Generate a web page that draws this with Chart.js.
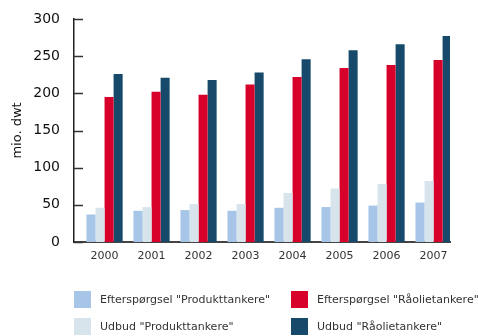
<!DOCTYPE html>
<html>
<head>
<meta charset="utf-8">
<script src="https://cdn.jsdelivr.net/npm/chart.js@4/dist/chart.umd.min.js"></script>
<style>
  html, body { margin: 0; padding: 0; background: #fff; }
  #wrap { position: relative; width: 478px; height: 336px; }
  #legend { position: absolute; left: 0; top: 0; width: 478px; height: 336px; pointer-events: none;
    font-family: "DejaVu Sans", sans-serif; font-size: 11px; color: #333; }
  .item { position: absolute; display: flex; align-items: center; white-space: nowrap; height: 17px; }
  .box { width: 17px; height: 17px; margin-right: 9px; }
</style>
</head>
<body>
<div id="wrap">
  <canvas id="tankChart" width="478" height="336"></canvas>
  <div id="legend"></div>
</div>
<script>
// årstal
const years = ["2000", "2001", "2002", "2003", "2004", "2005", "2006", "2007"];

// mio. dwt
const demandProduct = [37, 42, 43, 42, 46, 47, 49, 53];
const supplyProduct = [46, 47, 51, 51, 66, 72, 78, 82];
const demandCrude = [195, 202, 198, 212, 222, 234, 238, 245];
const supplyCrude = [226, 221, 218, 228, 246, 258, 266, 277];

const yTicks = [0, 50, 100, 150, 200, 250, 300];

const seriesLabels = [
  'Efterspørgsel "Produkttankere"',
  'Udbud "Produkttankere"',
  'Efterspørgsel "Råolietankere"',
  'Udbud "Råolietankere"',
];
const seriesColors = ["#a7c6e7", "#d8e4ec", "#d7002a", "#174a6a"];

/**
 * små tick-streger ind mod plotområdet
 */
const innerTicks = {
  id: "innerTicks",
  afterDraw(chart) {
    const ctx = chart.ctx;
    const y = chart.scales.y;
    ctx.save();
    ctx.strokeStyle = "#333";
    ctx.lineWidth = 1.5;
    yTicks.forEach((v) => {
      const py = Math.round(y.getPixelForValue(v)) + 0.5;
      ctx.beginPath();
      ctx.moveTo(y.right, py);
      ctx.lineTo(y.right + 9, py);
      ctx.stroke();
    });
    ctx.restore();
  },
};

const data = [demandProduct, supplyProduct, demandCrude, supplyCrude];

const tankChart = new Chart(document.getElementById("tankChart"), {
  type: "bar",
  data: {
    datasets: data.map((d, i) => ({
      label: seriesLabels[i],
      data: d.map((v, j) => ({ x: j, y: v })),
      backgroundColor: seriesColors[i],
      borderWidth: 0,
      categoryPercentage: 0.77,
      barPercentage: 1,
    })),
  },
  options: {
    responsive: false,
    animation: false,
    layout: { padding: { top: 19, right: 28, left: 0, bottom: 0 } },
    plugins: {
      legend: { display: false },
      tooltip: { enabled: false },
    },
    scales: {
      x: {
        type: "linear",
        offset: false,
        min: -0.65,
        max: 7.35,
        afterBuildTicks: (s) => { s.ticks = years.map((_, i) => ({ value: i })); },
        grid: { display: false },
        border: { color: "#444", width: 2 },
        ticks: {
          color: "#333",
          padding: 0,
          autoSkip: false,
          maxRotation: 0,
          callback: (v) => years[v],
          font: { family: "'DejaVu Sans', sans-serif", size: 11 },
        },
        afterFit: (s) => { s.height = 94; },
      },
      y: {
        min: 0,
        max: 300,
        afterBuildTicks: (s) => { s.ticks = yTicks.map((v) => ({ value: v })); },
        grid: { display: false },
        border: { color: "#222", width: 1.5 },
        ticks: {
          color: "#111",
          padding: 6,
          font: { family: "'DejaVu Sans', sans-serif", size: 14 },
        },
        title: {
          display: true,
          text: "mio. dwt",
          color: "#111",
          padding: { top: 10, bottom: 0 },
          font: { family: "'DejaVu Sans', sans-serif", size: 13 },
        },
        afterFit: (s) => { s.width = 74; },
      },
    },
  },
  plugins: [innerTicks],
});

// forklaring i to kolonner
const legendPos = [
  { left: 74, top: 291 },
  { left: 74, top: 318 },
  { left: 291, top: 291 },
  { left: 291, top: 318 },
];
const legendEl = document.getElementById("legend");
seriesLabels.forEach((label, i) => {
  const item = document.createElement("div");
  item.className = "item";
  item.style.left = legendPos[i].left + "px";
  item.style.top = legendPos[i].top + "px";
  const box = document.createElement("span");
  box.className = "box";
  box.style.background = seriesColors[i];
  const txt = document.createElement("span");
  txt.textContent = label;
  item.appendChild(box);
  item.appendChild(txt);
  legendEl.appendChild(item);
});
</script>
</body>
</html>
